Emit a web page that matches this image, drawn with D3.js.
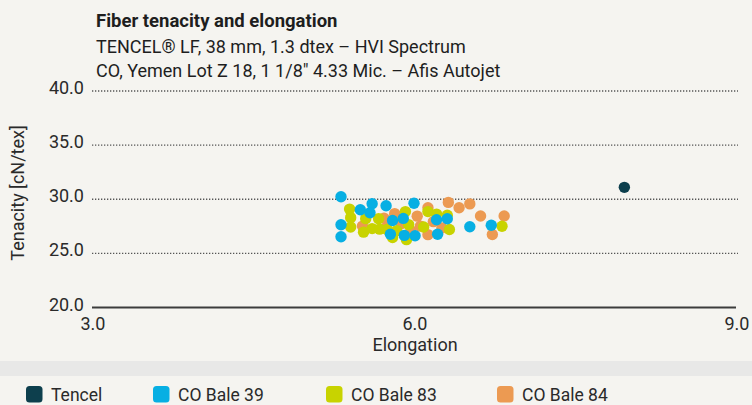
<!DOCTYPE html>
<html>
<head>
<meta charset="utf-8">
<script src="https://cdn.jsdelivr.net/npm/d3@7"></script>
<style>
  body { margin: 0; background: #f5f4f0; }
  svg { display: block; font-family: Roboto, "Noto Sans", sans-serif; }
</style>
</head>
<body>
<div id="chart-area"></div>
<script>
/* Data: [elongation, tenacity] */
const tencel = [[7.96, 31.1]];

const bale39 = [
    [5.32, 30.23], [5.50, 29.03], [5.61, 29.58], [5.59, 28.75], [5.74, 29.40],
    [6.00, 29.63], [5.32, 27.65], [5.32, 26.54], [5.80, 28.04], [5.90, 28.23],
    [5.78, 26.77], [5.91, 26.66], [6.01, 26.63], [6.21, 28.11], [6.31, 28.20],
    [6.22, 26.77], [6.52, 27.46], [6.72, 27.60]
];

const bale83 = [
    [5.40, 29.09], [5.41, 28.30], [5.41, 27.43], [5.53, 26.96], [5.55, 28.21],
    [5.61, 27.29], [5.67, 28.21], [5.68, 27.24], [5.75, 27.20], [5.80, 26.46],
    [5.84, 27.10], [5.92, 28.86], [5.93, 26.27], [5.95, 27.66], [6.09, 27.43],
    [6.13, 28.86], [6.21, 28.63], [6.31, 28.53], [6.33, 27.20], [6.82, 27.50]
];

const bale84 = [
    [5.52, 27.52], [5.72, 28.26], [5.82, 28.67], [6.03, 28.44], [6.06, 27.52],
    [6.13, 29.22], [6.13, 26.73], [6.18, 27.93], [6.26, 27.35], [6.32, 29.71],
    [6.42, 29.21], [6.52, 29.57], [6.62, 28.45], [6.84, 28.46], [6.73, 26.75],
    [5.74, 27.38], [5.88, 27.75], [5.97, 27.10]
];

const seriesNames  = ['Tencel', 'CO Bale 39', 'CO Bale 83', 'CO Bale 84'];
const seriesColors = ['#0d3f4d', '#07afe3', '#c8d300', '#ec9a52'];

const xTicks = [3, 6, 9];
const yTicks = [20, 25, 30, 35, 40];

const titleLines = [
    'Fiber tenacity and elongation',
    'TENCEL® LF, 38 mm, 1.3 dtex – HVI Spectrum',
    'CO, Yemen Lot Z 18, 1 1/8" 4.33 Mic. – Afis Autojet'
];

/* SVG */
const W = 752, H = 405;
const svg = d3.select('#chart-area')
    .append('svg')
    .attr('width', W)
    .attr('height', H);

svg.append('rect').attr('width', W).attr('height', H).attr('fill', '#f5f4f0');

/* Scales */
const x = d3.scaleLinear().domain([3, 9]).range([92, 736]);
const y = d3.scaleLinear().domain([20, 40]).range([307.5, 91]);

/* Title */
svg.selectAll('.title')
    .data(titleLines)
    .enter().append('text')
    .attr('x', 96)
    .attr('y', (d, i) => [26.5, 52.5, 76.5][i])
    .attr('font-size', (d, i) => i === 0 ? '18.5px' : '18px')
    .attr('font-weight', (d, i) => i === 0 ? 700 : 400)
    .attr('fill', '#1e1e1e')
    .text(d => d);

/* Grid lines */
svg.selectAll('.grid')
    .data(yTicks.filter(d => d > 20))
    .enter().append('line')
    .attr('x1', 92).attr('x2', 738)
    .attr('y1', d => y(d)).attr('y2', d => y(d))
    .attr('stroke', '#555')
    .attr('stroke-width', 1.3)
    .attr('stroke-dasharray', '1.3 1.7');

/* Base axis line */
svg.append('line')
    .attr('x1', x(3)).attr('x2', x(9))
    .attr('y1', y(20)).attr('y2', y(20))
    .attr('stroke', '#3c3c3c')
    .attr('stroke-width', 2);

/* Y tick labels */
svg.selectAll('.ytick')
    .data(yTicks)
    .enter().append('text')
    .attr('x', 84)
    .attr('y', d => y(d) + 3)
    .attr('text-anchor', 'end')
    .attr('font-size', '18px')
    .attr('fill', '#2a2a2a')
    .text(d3.format('.1f'));

/* X tick labels */
svg.selectAll('.xtick')
    .data(xTicks)
    .enter().append('text')
    .attr('x', d => x(d) + 1)
    .attr('y', 330)
    .attr('text-anchor', 'middle')
    .attr('font-size', '18px')
    .attr('fill', '#2a2a2a')
    .text(d3.format('.1f'));

/* Axis labels */
svg.append('text')
    .attr('x', 415).attr('y', 351)
    .attr('text-anchor', 'middle')
    .attr('font-size', '18px')
    .attr('fill', '#2a2a2a')
    .text('Elongation');

svg.append('text')
    .attr('transform', 'translate(24,193) rotate(-90)')
    .attr('text-anchor', 'middle')
    .attr('font-size', '18px')
    .attr('fill', '#2a2a2a')
    .text('Tenacity [cN/tex]');

/* Points (orange under yellow under blue) */
const drawOrder = [
    { data: bale84, color: seriesColors[3] },
    { data: bale83, color: seriesColors[2] },
    { data: bale39, color: seriesColors[1] },
    { data: tencel, color: seriesColors[0] }
];

drawOrder.forEach(s => {
    svg.append('g')
        .selectAll('circle')
        .data(s.data)
        .enter().append('circle')
        .attr('cx', d => x(d[0]))
        .attr('cy', d => y(d[1]))
        .attr('r', 5.7)
        .attr('fill', s.color);
});

/* Legend band */
svg.append('rect')
    .attr('x', 0).attr('y', 361)
    .attr('width', W).attr('height', 15)
    .attr('fill', '#e8e8e7');

/* Legend */
const legendX = [26, 153, 326, 497];
const legend = svg.selectAll('.legend')
    .data(seriesNames)
    .enter().append('g')
    .attr('transform', (d, i) => `translate(${legendX[i]},386)`);

legend.append('rect')
    .attr('width', 16.5).attr('height', 16.5)
    .attr('rx', 3.5)
    .attr('fill', (d, i) => seriesColors[i]);

legend.append('text')
    .attr('x', 25).attr('y', 14.5)
    .attr('font-size', '17.5px')
    .attr('fill', '#2a2a2a')
    .text(d => d);
</script>
</body>
</html>
